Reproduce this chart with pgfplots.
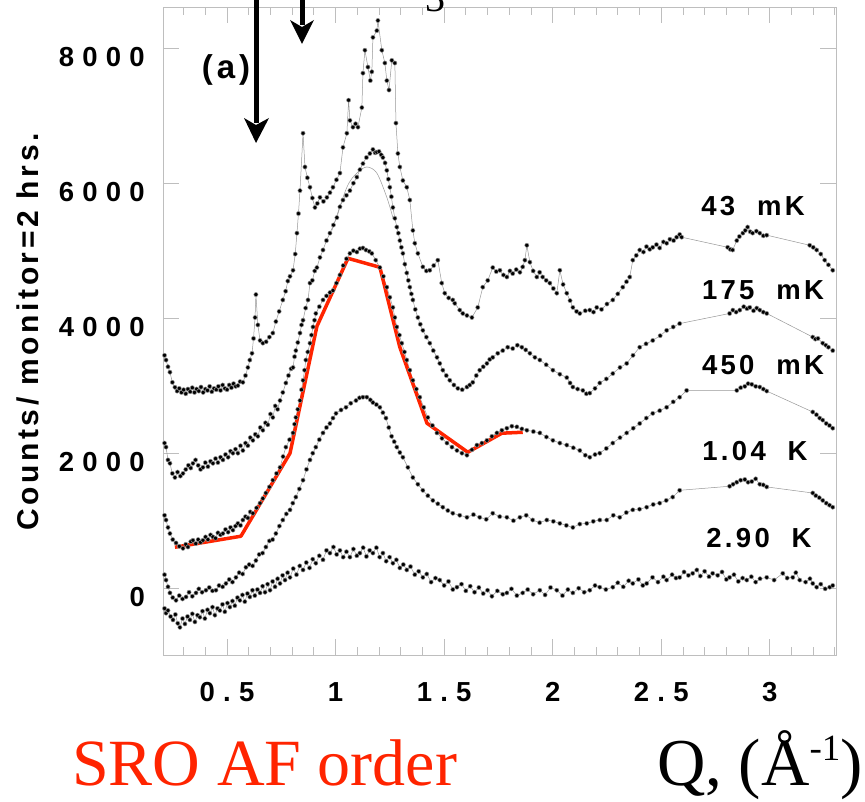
\documentclass[border=0pt]{standalone}
\usepackage{fontspec}
\setmainfont{Liberation Serif}
\newfontfamily\hel[LetterSpace=30]{Liberation Sans}
\newfontfamily\helB[LetterSpace=12]{Liberation Sans}
\newfontfamily\helY[LetterSpace=12]{Liberation Sans}
\usepackage{pgfplots}
\pgfplotsset{compat=1.18}
\definecolor{srored}{RGB}{255,36,0}
\definecolor{framegray}{RGB}{190,190,190}
\definecolor{linegray}{RGB}{150,150,150}
\pgfplotsset{dots/.style={color=linegray, line width=0.5pt, mark=*, mark size=2.1pt, mark options={draw=none, fill=black}}}

\pgfplotstableread{
Q c
0.212 3450
0.219 3380
0.228 3280
0.237 3200
0.248 3050
0.260 2977
0.270 2920
0.280 2960
0.290 2900
0.300 2940
0.310 2880
0.320 2950
0.330 2910
0.340 2970
0.350 2900
0.360 2950
0.370 2920
0.380 2980
0.390 2900
0.400 2950
0.410 2930
0.420 2990
0.430 2910
0.440 2960
0.450 2940
0.460 2990
0.470 2930
0.480 3010
0.490 2960
0.500 2940
0.510 3010
0.520 2970
0.530 3030
0.540 2990
0.550 3000
0.560 3060
0.573 3050
0.585 3150
0.596 3270
0.605 3380
0.615 3480
0.622 3700
0.629 4010
0.633 4350
0.642 3900
0.652 3670
0.665 3630
0.680 3650
0.695 3720
0.711 3780
0.725 3950
0.740 4100
0.757 4270
0.770 4400
0.780 4550
0.790 4620
0.804 4710
0.814 4950
0.822 5260
0.829 5550
0.836 5890
0.850 6740
0.859 6240
0.870 6080
0.882 5940
0.893 5780
0.905 5640
0.916 5700
0.928 5790
0.944 5730
0.960 5790
0.974 5860
0.988 5940
1.004 6050
1.020 6150
1.034 6530
1.052 6740
1.060 7230
1.066 6930
1.080 6830
1.092 6880
1.103 6830
1.121 7120
1.126 7630
1.135 7970
1.149 7720
1.160 7520
1.167 7650
1.172 8160
1.190 8260
1.195 8410
1.213 7970
1.227 7780
1.236 7520
1.246 7380
1.259 7820
1.273 7780
1.278 6890
1.287 6440
1.296 6240
1.310 6040
1.328 5940
1.342 5750
1.356 5300
1.365 5110
1.379 4960
1.402 4760
1.418 4700
1.434 4710
1.452 4780
1.471 4860
1.489 4520
1.503 4370
1.521 4300
1.540 4270
1.549 4220
1.572 4120
1.586 4070
1.605 4040
1.628 4010
1.655 4160
1.678 4460
1.701 4560
1.724 4750
1.740 4690
1.757 4710
1.773 4640
1.789 4610
1.803 4700
1.816 4660
1.832 4720
1.849 4680
1.862 4760
1.872 4860
1.881 5080
1.895 4830
1.910 4700
1.927 4610
1.940 4680
1.954 4610
1.970 4560
1.987 4520
2.003 4440
2.019 4370
2.033 4710
2.048 4500
2.065 4370
2.080 4260
2.093 4160
2.110 4100
2.125 4070
2.150 4110
2.171 4120
2.188 4090
2.203 4160
2.225 4130
2.250 4210
2.277 4270
2.300 4360
2.323 4460
2.340 4540
2.355 4610
2.369 4860
2.385 4930
2.401 5010
2.418 4980
2.432 5060
2.447 5020
2.461 5050
2.478 5090
2.493 5040
2.510 5130
2.525 5110
2.540 5170
2.557 5150
2.571 5200
2.585 5240
2.594 5200
2.806 5050
2.818 5020
2.829 5010
2.848 5150
2.860 5210
2.876 5260
2.887 5300
2.898 5350
2.910 5280
2.921 5260
2.938 5290
2.954 5260
2.970 5220
2.986 5230
3.184 5080
3.200 5050
3.216 5010
3.235 4950
3.253 4860
3.270 4790
3.290 4710
}\dataA

\pgfplotstableread{
Q c
0.212 2150
0.219 2090
0.228 1900
0.237 1850
0.248 1700
0.260 1640
0.272 1720
0.285 1660
0.297 1700
0.310 1760
0.322 1820
0.333 1780
0.343 1850
0.355 1900
0.367 1820
0.378 1760
0.389 1790
0.400 1860
0.412 1800
0.424 1880
0.435 1850
0.447 1920
0.458 1860
0.470 1940
0.481 1900
0.493 1980
0.505 1940
0.516 2030
0.527 2000
0.539 2060
0.550 2000
0.562 2110
0.573 2040
0.585 2150
0.596 2110
0.607 2230
0.619 2190
0.630 2280
0.642 2250
0.653 2380
0.665 2340
0.677 2450
0.688 2420
0.700 2580
0.711 2530
0.722 2700
0.733 2650
0.744 2780
0.757 2900
0.771 3040
0.783 3150
0.795 3250
0.804 3270
0.811 3430
0.817 3520
0.826 3640
0.836 3780
0.843 3900
0.850 3970
0.862 4150
0.873 4270
0.882 4520
0.893 4560
0.904 4700
0.914 4750
0.928 4900
0.942 5010
0.958 5150
0.974 5260
0.990 5380
1.006 5490
1.020 5650
1.034 5750
1.050 5820
1.066 5890
1.082 6000
1.098 6090
1.112 6200
1.126 6290
1.142 6380
1.158 6440
1.172 6500
1.182 6450
1.190 6460
1.200 6470
1.210 6420
1.218 6380
1.228 6300
1.236 6190
1.243 6060
1.250 5940
1.257 5800
1.264 5640
1.273 5480
1.282 5350
1.289 5260
1.296 5150
1.303 5050
1.310 4960
1.319 4800
1.328 4670
1.335 4560
1.342 4460
1.349 4360
1.356 4270
1.367 4130
1.379 4010
1.390 3910
1.402 3820
1.418 3720
1.434 3630
1.450 3520
1.467 3420
1.480 3330
1.494 3230
1.510 3150
1.526 3080
1.545 3010
1.563 2960
1.583 2940
1.605 2980
1.618 3010
1.632 3050
1.648 3150
1.664 3230
1.680 3280
1.697 3330
1.710 3390
1.724 3420
1.747 3480
1.770 3520
1.793 3570
1.816 3550
1.837 3600
1.858 3570
1.876 3530
1.895 3480
1.918 3420
1.941 3380
1.970 3310
2.001 3230
2.033 3170
2.065 3120
2.080 3040
2.093 2980
2.115 2950
2.139 2930
2.155 2880
2.171 2890
2.195 2960
2.217 3040
2.247 3100
2.277 3180
2.310 3270
2.341 3330
2.370 3450
2.401 3570
2.430 3620
2.461 3670
2.495 3740
2.525 3820
2.555 3870
2.585 3920
2.815 4070
2.830 4120
2.845 4090
2.862 4120
2.880 4170
2.895 4140
2.908 4160
2.925 4110
2.940 4150
2.954 4120
2.970 4090
2.986 4070
3.198 3720
3.210 3690
3.222 3700
3.244 3630
3.258 3600
3.270 3570
3.290 3520
}\dataB

\pgfplotstableread{
Q c
0.212 1080
0.219 1010
0.228 900
0.237 810
0.250 720
0.265 670
0.280 620
0.297 590
0.310 650
0.320 610
0.333 690
0.343 710
0.356 660
0.367 720
0.378 680
0.389 710
0.401 760
0.412 720
0.424 790
0.435 760
0.447 740
0.458 820
0.470 790
0.481 810
0.493 870
0.505 830
0.516 900
0.527 860
0.539 920
0.550 960
0.562 930
0.573 1010
0.585 1060
0.596 1040
0.607 1130
0.619 1110
0.636 1190
0.652 1260
0.665 1330
0.679 1410
0.695 1500
0.711 1600
0.728 1700
0.744 1790
0.758 1950
0.771 2090
0.788 2200
0.804 2300
0.811 2430
0.817 2530
0.826 2650
0.836 2780
0.843 2940
0.850 3080
0.857 3230
0.863 3380
0.872 3500
0.882 3630
0.889 3750
0.896 3870
0.903 3970
0.909 4070
0.925 4170
0.942 4270
0.958 4330
0.974 4380
0.988 4410
1.004 4520
1.020 4640
1.035 4780
1.050 4880
1.066 4960
1.082 5000
1.098 4980
1.112 5030
1.126 5040
1.140 5010
1.155 4990
1.167 4960
1.185 4860
1.204 4750
1.220 4620
1.236 4460
1.250 4310
1.264 4160
1.273 4010
1.282 3870
1.294 3750
1.305 3630
1.317 3500
1.328 3380
1.342 3230
1.356 3080
1.372 2950
1.388 2830
1.406 2680
1.425 2530
1.446 2410
1.467 2300
1.490 2220
1.513 2150
1.536 2090
1.559 2040
1.582 2000
1.605 1970
1.628 2050
1.651 2120
1.674 2150
1.697 2190
1.720 2250
1.743 2300
1.766 2340
1.789 2370
1.812 2400
1.835 2390
1.858 2360
1.881 2340
1.911 2320
1.941 2300
1.971 2240
2.001 2190
2.033 2150
2.065 2120
2.095 2080
2.125 2040
2.150 1970
2.171 1940
2.195 1980
2.217 2000
2.247 2070
2.277 2150
2.310 2230
2.341 2300
2.371 2370
2.401 2440
2.431 2520
2.461 2590
2.493 2630
2.525 2680
2.555 2760
2.585 2830
2.617 2930
2.848 2930
2.866 2970
2.885 2990
2.900 3030
2.917 3020
2.935 2990
2.954 2980
2.970 2950
2.986 2920
3.198 2610
3.215 2570
3.230 2520
3.244 2490
3.260 2440
3.275 2410
3.290 2370
}\dataC

\pgfplotstableread{
Q c
0.212 200
0.219 120
0.228 20
0.237 -70
0.250 -140
0.265 -180
0.280 -110
0.295 -160
0.311 -130
0.325 -60
0.340 -120
0.357 -70
0.370 -10
0.385 -60
0.403 -30
0.418 10
0.433 -40
0.449 -30
0.463 40
0.480 20
0.495 70
0.510 130
0.525 90
0.541 160
0.556 230
0.572 210
0.587 310
0.602 350
0.618 330
0.633 410
0.648 500
0.664 520
0.679 610
0.695 700
0.710 720
0.725 810
0.741 920
0.757 1010
0.773 1100
0.790 1160
0.803 1260
0.817 1350
0.833 1470
0.850 1600
0.866 1760
0.882 1900
0.895 2000
0.909 2090
0.925 2200
0.942 2300
0.958 2380
0.974 2440
0.988 2520
1.002 2590
1.025 2640
1.048 2680
1.070 2740
1.094 2780
1.110 2820
1.126 2830
1.144 2830
1.160 2790
1.172 2750
1.188 2720
1.204 2680
1.218 2600
1.232 2520
1.245 2380
1.258 2250
1.270 2170
1.282 2090
1.296 2010
1.310 1940
1.333 1790
1.356 1640
1.379 1540
1.402 1450
1.425 1370
1.448 1300
1.471 1250
1.494 1200
1.517 1150
1.540 1110
1.572 1080
1.605 1050
1.635 1090
1.664 1050
1.694 1020
1.724 1110
1.756 1060
1.789 1050
1.819 1000
1.849 1050
1.878 1080
1.908 1010
1.940 970
1.973 1010
2.003 990
2.033 960
2.063 930
2.093 900
2.125 950
2.157 960
2.187 990
2.217 1010
2.249 1010
2.279 1080
2.309 1050
2.339 1120
2.369 1160
2.400 1170
2.433 1200
2.463 1240
2.493 1260
2.523 1300
2.553 1350
2.585 1450
2.815 1510
2.831 1540
2.848 1570
2.866 1600
2.885 1610
2.900 1570
2.917 1580
2.935 1620
2.954 1540
2.970 1530
2.986 1500
3.198 1410
3.212 1370
3.228 1340
3.244 1300
3.260 1260
3.275 1230
3.290 1200
}\dataD

\pgfplotstableread{
Q c
0.212 -300
0.219 -370
0.228 -330
0.240 -420
0.251 -470
0.262 -390
0.273 -520
0.283 -580
0.295 -450
0.306 -530
0.318 -420
0.329 -470
0.340 -380
0.352 -500
0.364 -400
0.375 -430
0.387 -340
0.398 -450
0.410 -320
0.421 -370
0.433 -280
0.444 -400
0.456 -300
0.467 -330
0.479 -240
0.490 -350
0.502 -220
0.513 -280
0.525 -190
0.536 -260
0.548 -140
0.559 -180
0.571 -100
0.582 -200
0.594 -80
0.605 -130
0.617 -30
0.628 -110
0.640 -20
0.652 -70
0.664 30
0.675 -60
0.687 60
0.698 -30
0.710 100
0.721 20
0.733 140
0.744 70
0.756 190
0.767 120
0.779 230
0.790 160
0.805 290
0.820 200
0.835 330
0.850 270
0.865 380
0.880 300
0.895 430
0.909 370
0.925 480
0.942 420
0.958 560
0.974 520
0.990 610
1.005 500
1.020 560
1.035 460
1.050 540
1.066 460
1.082 580
1.098 480
1.112 520
1.127 600
1.142 470
1.157 560
1.172 520
1.188 600
1.203 460
1.218 520
1.233 400
1.249 460
1.264 370
1.280 420
1.296 300
1.312 350
1.328 270
1.345 320
1.365 200
1.383 250
1.402 160
1.420 210
1.440 90
1.460 150
1.480 120
1.500 40
1.520 100
1.540 -20
1.559 15
1.580 60
1.600 -40
1.620 30
1.640 -60
1.660 10
1.680 -80
1.700 -30
1.720 -120
1.745 -40
1.770 -90
1.789 -70
1.810 -10
1.835 -110
1.862 -70
1.885 -20
1.910 -90
1.941 -30
1.965 -100
1.990 10
2.019 -30
2.045 -110
2.070 -20
2.093 -70
2.120 0
2.145 -60
2.171 -30
2.195 40
2.217 15
2.245 -20
2.277 15
2.300 80
2.325 20
2.350 110
2.369 70
2.395 130
2.415 40
2.433 70
2.460 160
2.485 90
2.510 170
2.525 120
2.550 200
2.568 150
2.585 160
2.605 240
2.625 190
2.645 220
2.664 270
2.680 180
2.700 250
2.720 170
2.737 220
2.760 190
2.780 240
2.800 130
2.815 160
2.835 200
2.855 100
2.875 150
2.894 120
2.915 170
2.935 90
2.955 140
2.986 160
3.020 120
3.060 220
3.080 150
3.106 160
3.120 230
3.138 120
3.165 90
3.185 140
3.198 70
3.216 15
3.235 60
3.255 -10
3.276 15
3.290 40
}\dataE

\begin{document}
\begin{tikzpicture}[x=1pt,y=1pt]
\useasboundingbox (0,0) rectangle (865,801);
\begin{axis}[
  at={(163pt,146pt)}, anchor=south west, scale only axis,
  width=673pt, height=648pt,
  xmin=0.205, xmax=3.305, ymin=-990, ymax=8610,
  xtick={0.5,1,1.5,2,2.5,3}, xticklabels={0.5,1,1.5,2,2.5,3},
  minor xtick={0.3,0.4,0.6,0.7,0.8,0.9,1.1,1.2,1.3,1.4,1.6,1.7,1.8,1.9,2.1,2.2,2.3,2.4,2.6,2.7,2.8,2.9,3.1,3.2,3.3},
  ytick={0,2000,4000,6000,8000}, yticklabels={0,2000,4000,6000,8000},
  tick align=inside, major tick length=16pt, minor tick length=8pt,
  tick style={framegray, line width=0.9pt},
  axis line style={framegray, line width=0.9pt},
  ticklabel style={font=\hel\bfseries\fontsize{27.5}{30}\selectfont, inner sep=0pt},
  xticklabel style={yshift=-27pt},
  yticklabel style={xshift=-18pt, yshift=-9pt},
]
\addplot[dots] table[x=Q, y=c] {\dataA};
\addplot[dots] table[x=Q, y=c] {\dataB};
\addplot[dots] table[x=Q, y=c] {\dataC};
\addplot[dots] table[x=Q, y=c] {\dataD};
\addplot[dots] table[x=Q, y=c] {\dataE};
\addplot[linegray, line width=0.5pt, smooth, no marks] coordinates {(0.983,5300) (1.052,5940) (1.098,6150) (1.144,6240) (1.190,6150) (1.236,5790) (1.264,5490)};
\addplot[srored, line width=3.5pt, no marks, line join=round] coordinates {
(0.260,607) (0.564,770) (0.790,1999) (0.914,3880) (1.057,4887) (1.204,4754) (1.296,3569) (1.421,2444) (1.609,2014) (1.766,2296) (1.862,2310)};
\end{axis}
% temperature labels
\begin{scope}[every node/.style={inner sep=0pt, font=\helB\bfseries\fontsize{27.5}{30}\selectfont}]
\node at (753,595) {43\ \ mK};
\node at (763,511) {175\ \ mK};
\node at (763,436) {450\ \ mK};
\node at (755,350) {1.04\ \ K};
\node at (759,263) {2.90\ \ K};
\node[font=\helB\bfseries\fontsize{33}{36}\selectfont] at (226,731) {(a)};
\end{scope}
\node[rotate=90, inner sep=0pt, font=\helY\bfseries\fontsize{30}{32}\selectfont] at (28,469) {Counts/ monitor=2 hrs.};
% arrows
\draw[line width=5pt] (256,805) -- (256,678);
\fill (244,683) -- (256,658) -- (269,683) -- (256,676) -- cycle;
\draw[line width=5pt] (302,805) -- (302,776);
\fill (290,781) -- (302,757) -- (314,781) -- (302,774) -- cycle;
\node[anchor=base, inner sep=0pt, font=\fontsize{40}{40}\selectfont] at (435,789) {3};
% bottom texts
\node[anchor=base west, inner sep=0pt, text=srored, font=\fontsize{66}{70}\selectfont] at (72,16) {SRO AF order};
\node[anchor=base east, inner sep=0pt, font=\fontsize{67}{70}\selectfont] at (863,16) {Q, (Å\raisebox{25pt}{\fontsize{37}{37}\selectfont -1})};
\end{tikzpicture}
\end{document}
